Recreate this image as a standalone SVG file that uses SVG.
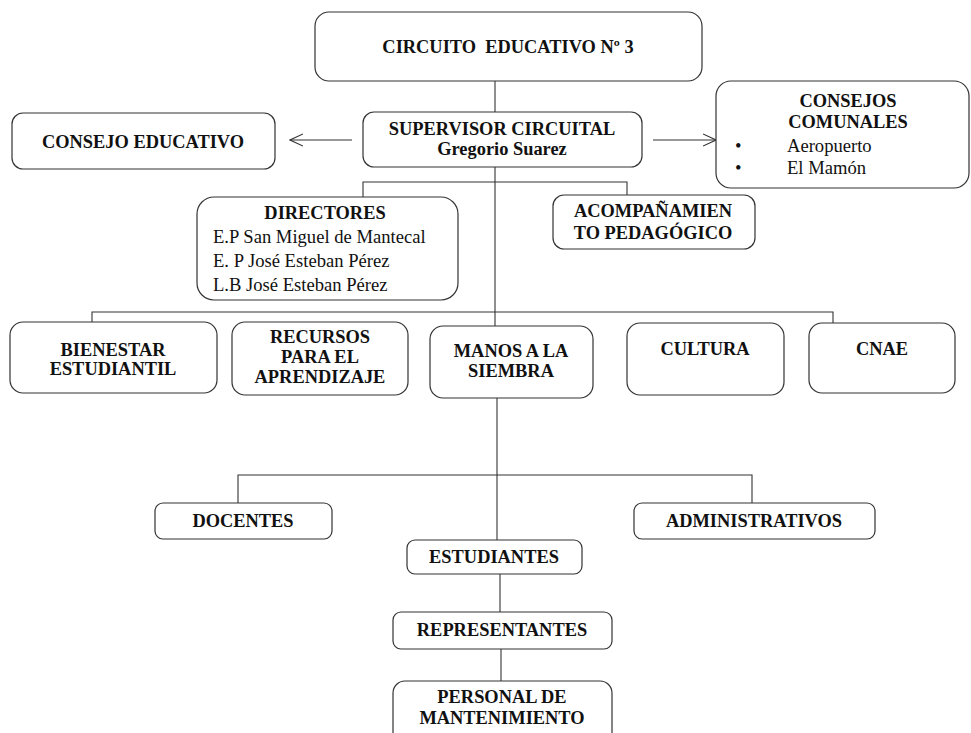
<svg xmlns="http://www.w3.org/2000/svg" width="971" height="733" viewBox="0 0 971 733">
<defs>
<style>
.box{fill:#fff;stroke:#333;stroke-width:1.2}
.ln{fill:none;stroke:#333;stroke-width:1.1}
.b{font-family:"Liberation Serif","Times New Roman",serif;font-weight:bold;font-size:18.4px;fill:#111;text-anchor:middle}
.r{font-family:"Liberation Serif","Times New Roman",serif;font-size:18.6px;fill:#111}
</style>
<marker id="arr" viewBox="0 0 14 14" refX="13" refY="7" markerWidth="14" markerHeight="14" markerUnits="userSpaceOnUse" orient="auto">
<path d="M0,1 L13,7 L0,13" fill="none" stroke="#333" stroke-width="1.1"/>
</marker>
</defs>
<rect width="971" height="733" fill="#fff"/>
<g id="connectors">
<line class="ln" x1="495" y1="81" x2="495" y2="112"/>
<line class="ln" x1="352" y1="140" x2="290" y2="140" marker-end="url(#arr)"/>
<line class="ln" x1="653" y1="140" x2="716" y2="140" marker-end="url(#arr)"/>
<line class="ln" x1="495" y1="167" x2="495" y2="326"/>
<polyline class="ln" points="363,197 363,182 627,182 627,195"/>
<polyline class="ln" points="92,322 92,312 833,312 833,323"/>
<line class="ln" x1="497" y1="398" x2="497" y2="540"/>
<polyline class="ln" points="238,503 238,475 752,475 752,503"/>
<line class="ln" x1="500" y1="574" x2="500" y2="612"/>
<line class="ln" x1="501" y1="649" x2="501" y2="681"/>
</g>
<g id="circuito">
<rect class="box" x="315" y="12" width="387" height="69" rx="14"/>
<text class="b" x="508" y="53" xml:space="preserve">CIRCUITO  EDUCATIVO Nº 3</text>
</g>
<g id="consejo-educativo">
<rect class="box" x="12" y="113" width="263" height="56" rx="11"/>
<text class="b" x="143" y="148">CONSEJO EDUCATIVO</text>
</g>
<g id="supervisor">
<rect class="box" x="363" y="112" width="279" height="55" rx="11"/>
<text class="b" x="502" y="135">SUPERVISOR CIRCUITAL</text>
<text class="b" x="502" y="155">Gregorio Suarez</text>
</g>
<g id="consejos-comunales">
<rect class="box" x="716" y="81" width="253" height="107" rx="15"/>
<text class="b" x="848" y="107">CONSEJOS</text>
<text class="b" x="848" y="128">COMUNALES</text>
<text class="r" x="735" y="152">•</text>
<text class="r" x="787" y="152">Aeropuerto</text>
<text class="r" x="735" y="174">•</text>
<text class="r" x="787" y="174">El Mamón</text>
</g>
<g id="directores">
<rect class="box" x="197" y="197" width="261" height="103" rx="17"/>
<text class="b" x="325" y="219">DIRECTORES</text>
<text class="r" x="213" y="243">E.P San Miguel de Mantecal</text>
<text class="r" x="213" y="267">E. P José Esteban Pérez</text>
<text class="r" x="213" y="291">L.B José Esteban Pérez</text>
</g>
<g id="acompanamiento">
<rect class="box" x="553" y="195" width="202" height="54" rx="11"/>
<text class="b" x="653" y="217">ACOMPAÑAMIEN</text>
<text class="b" x="653" y="239">TO PEDAGÓGICO</text>
</g>
<g id="bienestar">
<rect class="box" x="10" y="322" width="207" height="71" rx="13"/>
<text class="b" x="113" y="356">BIENESTAR</text>
<text class="b" x="113" y="375">ESTUDIANTIL</text>
</g>
<g id="recursos">
<rect class="box" x="232" y="322" width="176" height="73" rx="13"/>
<text class="b" x="320" y="343">RECURSOS</text>
<text class="b" x="320" y="363">PARA EL</text>
<text class="b" x="320" y="383">APRENDIZAJE</text>
</g>
<g id="manos">
<rect class="box" x="430" y="326" width="163" height="72" rx="13"/>
<text class="b" x="511" y="357">MANOS A LA</text>
<text class="b" x="511" y="377">SIEMBRA</text>
</g>
<g id="cultura">
<rect class="box" x="627" y="323" width="157" height="72" rx="13"/>
<text class="b" x="705" y="355">CULTURA</text>
</g>
<g id="cnae">
<rect class="box" x="809" y="323" width="146" height="70" rx="13"/>
<text class="b" x="882" y="355">CNAE</text>
</g>
<g id="docentes">
<rect class="box" x="155" y="503" width="177" height="36" rx="8"/>
<text class="b" x="243" y="527">DOCENTES</text>
</g>
<g id="administrativos">
<rect class="box" x="634" y="503" width="241" height="36" rx="8"/>
<text class="b" x="754" y="527">ADMINISTRATIVOS</text>
</g>
<g id="estudiantes">
<rect class="box" x="407" y="540" width="175" height="34" rx="8"/>
<text class="b" x="494" y="563">ESTUDIANTES</text>
</g>
<g id="representantes">
<rect class="box" x="393" y="612" width="219" height="37" rx="8"/>
<text class="b" x="502" y="636">REPRESENTANTES</text>
</g>
<g id="personal">
<rect class="box" x="393" y="681" width="219" height="70" rx="12"/>
<text class="b" x="502" y="703">PERSONAL DE</text>
<text class="b" x="502" y="724">MANTENIMIENTO</text>
</g>
</svg>
